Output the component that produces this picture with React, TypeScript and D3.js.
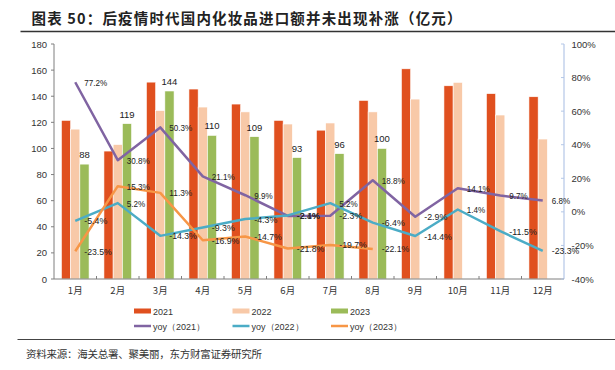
import React from 'react';
import * as d3 from 'd3';

const months = ['1月', '2月', '3月', '4月', '5月', '6月', '7月', '8月', '9月', '10月', '11月', '12月'];
const imp2021 = [121.5, 98, 150.8, 145.5, 134, 121.5, 114, 136.8, 161, 148, 142, 139.6];
const imp2022 = [114.8, 103, 129, 131.7, 128, 118.7, 119.5, 128, 137.8, 150.6, 125.6, 107.2];
const imp2023 = [88, 119, 144, 110, 109, 93, 96, 100];
const yoy2021 = [77.2, 30.8, 50.3, 21.1, 9.9, -2.4, -2.3, 18.8, -2.9, 14.1, 9.7, 6.8];
const yoy2022 = [-5.4, 5.2, -14.3, -9.3, -4.3, -2.1, 5.2, -6.4, -14.4, 1.4, -11.5, -23.3];
const yoy2023 = [-23.5, 15.3, 11.3, -16.9, -14.7, -21.8, -19.7, -22.1];
const leftTicks = [0, 20, 40, 60, 80, 100, 120, 140, 160, 180];
const rightTicks = [-40, -20, 0, 20, 40, 60, 80, 100];

const C21 = '#E0501F';
const C22 = '#F8C9A8';
const C23 = '#9BBB59';
const P = '#8064A2';
const CY = '#4BACC6';
const OR = '#F79646';

const W = 615;
const H = 370;
const left = 54;
const right = 564;
const top = 44;
const bottom = 279;

const App: React.FC = () => {
  const x = d3.scaleBand<string>().domain(months).range([left, right]);
  const inner = d3.scaleBand<string>().domain(['a', 'b', 'c']).range([0, x.bandwidth() * 0.65]);
  const off = (x.bandwidth() - x.bandwidth() * 0.65) / 2;
  const y = d3.scaleLinear().domain([0, 180]).range([bottom, top]);
  const yr = d3.scaleLinear().domain([-40, 100]).range([bottom, top]);
  const cx = (i: number) => (x(months[i]) as number) + x.bandwidth() / 2;

  const bars = [
    { key: 'a', data: imp2021, color: C21 },
    { key: 'b', data: imp2022, color: C22 },
    { key: 'c', data: imp2023, color: C23 },
  ];
  const lines = [
    { data: yoy2021, color: P },
    { data: yoy2022, color: CY },
    { data: yoy2023, color: OR },
  ];
  const line = d3.line<number>().x((_, i) => cx(i)).y(d => yr(d));

  const font = 'Liberation Sans, Arial, sans-serif';
  const cjk = '"Noto Sans CJK SC", sans-serif';

  const legend = [
    { name: '2021', color: C21, kind: 'bar', lx: 134, ly: 311 },
    { name: '2022', color: C22, kind: 'bar', lx: 232.5, ly: 311 },
    { name: '2023', color: C23, kind: 'bar', lx: 331, ly: 311 },
    { name: 'yoy（2021）', color: P, kind: 'line', lx: 134, ly: 326 },
    { name: 'yoy（2022）', color: CY, kind: 'line', lx: 232.5, ly: 326 },
    { name: 'yoy（2023）', color: OR, kind: 'line', lx: 331, ly: 326 },
  ];

  return (
    <svg width={W} height={H} style={{ position: 'absolute', left: 0, top: 0, background: '#fff' }}>
      <rect width={W} height={H} fill="#fff" />
      <text x={31.5} y={24} fontFamily={cjk} fontWeight="bold" fontSize={14.5} fill="#222"
        textLength={430} lengthAdjust="spacing">图表 50：后疫情时代国内化妆品进口额并未出现补涨（亿元）</text>
      <line x1={20.5} x2={615} y1={31.5} y2={31.5} stroke="#333" strokeWidth={1.5} />

      {/* bars */}
      {bars.map(s => s.data.map((v, i) => (
        <rect key={s.key + i} x={(x(months[i]) as number) + off + (inner(s.key) as number)}
          y={y(v)} width={inner.bandwidth()} height={bottom - y(v)} fill={s.color}
          stroke="#fff" strokeWidth={0.6} />
      )))}
      {imp2023.map((v, i) => (
        <text key={'l' + i} x={(x(months[i]) as number) + off + (inner('c') as number) + inner.bandwidth() / 2}
          y={y(v) - 6} textAnchor="middle" fontFamily={font} fontSize={9.5} fill="#222">{v}</text>
      ))}

      {/* axes */}
      <line x1={left} x2={left} y1={top} y2={bottom} stroke="#7f7f7f" />
      <line x1={right} x2={right} y1={top} y2={bottom} stroke="#B4C7E7" strokeWidth={1.2} />
      <line x1={left} x2={right} y1={bottom} y2={bottom} stroke="#7f7f7f" />
      {leftTicks.map(t => (
        <g key={'lt' + t}>
          <line x1={left - 3} x2={left} y1={y(t)} y2={y(t)} stroke="#7f7f7f" />
          <text x={47} y={y(t) + 3.5} textAnchor="end" fontFamily={font} fontSize={9.5} fill="#333">{t}</text>
        </g>
      ))}
      {rightTicks.map(t => (
        <g key={'rt' + t}>
          <line x1={right - 3} x2={right} y1={yr(t)} y2={yr(t)} stroke="#B4C7E7" />
          <text x={571.5} y={yr(t) + 3.5} fontFamily={font} fontSize={9.5} fill="#333">{t}%</text>
        </g>
      ))}
      {months.map((m, i) => (
        <g key={'m' + i}>
          {i > 0 && <line x1={x(m) as number} x2={x(m) as number} y1={bottom - 3} y2={bottom} stroke="#7f7f7f" />}
          <text x={cx(i)} y={294} textAnchor="middle" fontFamily={cjk} fontSize={9.5} fill="#333">{m}</text>
        </g>
      ))}

      {/* yoy lines */}
      {lines.map((s, k) => (
        <path key={'p' + k} d={line(s.data) as string} fill="none" stroke={s.color} strokeWidth={2.5} strokeLinejoin="round" />
      ))}
      {lines.map((s, k) => s.data.map((v, i) => {
        const label = v.toFixed(1) + '%';
        return (
          <text key={'t' + k + '-' + i} x={cx(i) + 9} y={yr(v) + 3.5} fontFamily={font} fontSize={9.5}
            textLength={label.length * 4.6} lengthAdjust="spacingAndGlyphs" fill="#222">{label}</text>
        );
      }))}

      {/* legend */}
      {legend.map(l => (
        <g key={l.name}>
          {l.kind === 'bar'
            ? <rect x={l.lx} y={l.ly - 2.5} width={17} height={5} fill={l.color} />
            : <line x1={l.lx} x2={l.lx + 17} y1={l.ly} y2={l.ly} stroke={l.color} strokeWidth={2.5} />}
          <text x={l.lx + 19} y={l.ly + 3.5} fontFamily={font} fontSize={9} fill="#333">{l.name}</text>
        </g>
      ))}

      <line x1={17.5} x2={615} y1={339.5} y2={339.5} stroke="#444" strokeWidth={1.2} />
      <text x={26} y={358} fontFamily={cjk} fontSize={10.5} fill="#333" textLength={236}
        lengthAdjust="spacing">资料来源：海关总署、聚美丽，东方财富证券研究所</text>
    </svg>
  );
};

export default App;
